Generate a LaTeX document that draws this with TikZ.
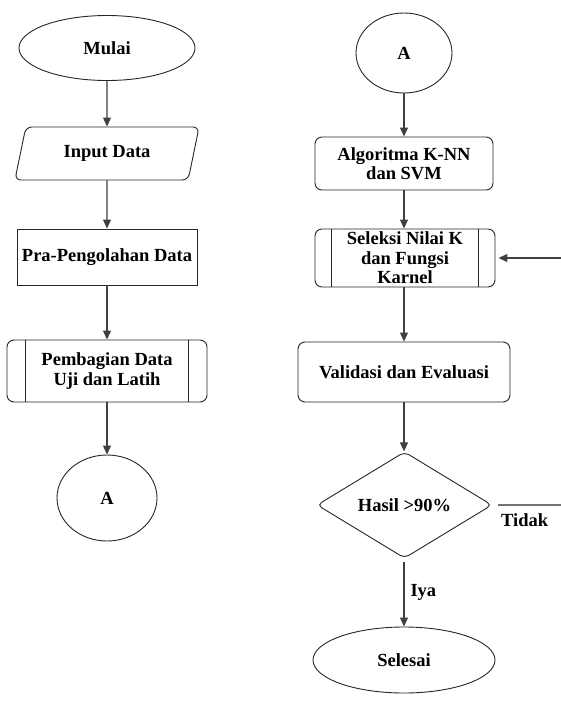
\documentclass[tikz,border=0pt]{standalone}
\usepackage{fontspec}
\setmainfont{Liberation Serif}
\usetikzlibrary{shapes.geometric}
\usetikzlibrary{arrows.meta}

\tikzset{
	txt/.style={font=\fontsize{18.5}{19.5}\selectfont\bfseries, align=center, inner sep=0pt},
	base/.style={txt, draw=black!85, line width=0.9pt},
	terminal/.style={base, ellipse, minimum width=176pt, minimum height=65pt},
	connector/.style={base, ellipse, minimum width=100pt, minimum height=86pt},
	io/.style={base, trapezium, trapezium left angle=70, trapezium right angle=110, trapezium stretches=true, rounded corners=6pt, minimum width=185pt, minimum height=53pt},
	process/.style={base, rectangle, minimum width=180pt, minimum height=56pt},
	roundbox/.style={base, rectangle, rounded corners=7pt},
	subproc/.style={base, rectangle, rounded corners=7pt},
	decision/.style={base, diamond, rounded corners=5pt, minimum width=175pt, minimum height=94pt},
	edge/.style={draw=black!85, line width=0.9pt},
	arrow/.style={draw=black!75, line width=1.1pt, -{Triangle[length=9pt,width=8pt]}},
	plain/.style={draw=black!55, line width=1.1pt}
}

\begin{document}
\begin{tikzpicture}[x=1pt, y=-1pt]
	\useasboundingbox (0,0) rectangle (561,705);

	\node[terminal] (mulai) at (107,48) {Mulai};
	\node[io] (input) at (107,153.5) {Input Data};
	\node[process] (pra) at (107,257) {Pra-Pengolahan Data};
	\node[subproc, minimum width=200pt, minimum height=62pt] (bagi) at (107,371) {Pembagian Data\\Uji dan Latih};
	\node[connector] (a1) at (107,498) {A};

	\node[connector, minimum width=96pt, minimum height=80pt] (a2) at (404,53) {A};
	\node[roundbox, minimum width=178pt, minimum height=53pt] (algo) at (404,163.5) {Algoritma K-NN\\dan SVM};
	\node[subproc, minimum width=180pt, minimum height=58pt] (seleksi) at (405,258) {Seleksi Nilai K\\dan Fungsi\\Karnel};
	\node[roundbox, minimum width=212pt, minimum height=60pt] (validasi) at (404,372) {Validasi dan Evaluasi};
	\node[decision] (hasil) at (404.5,505) {Hasil >90\%};
	\node[terminal, minimum width=182pt, minimum height=66pt] (selesai) at (404,660) {Selesai};

	\foreach \n/\d in {bagi/19, seleksi/17} {
		\draw[edge] ([xshift=\d pt]\n.north west) -- ([xshift=\d pt]\n.south west);
		\draw[edge] ([xshift=-\d pt]\n.north east) -- ([xshift=-\d pt]\n.south east);
	}

	\draw[arrow] (mulai) -- (input);
	\draw[arrow] (input) -- (pra);
	\draw[arrow] (pra) -- (bagi);
	\draw[arrow] (bagi) -- (a1);

	\draw[arrow] (a2) -- (algo);
	\draw[arrow] (algo) -- (algo |- seleksi.north);
	\draw[arrow] (seleksi.south -| validasi) -- (validasi);
	\draw[arrow] (validasi) -- (validasi |- hasil.north);
	\draw[arrow, shorten <=3pt] (hasil.south -| selesai) -- node[txt, right=6pt] {Iya} (selesai);

	\coordinate (tidakend) at (561,505);
	\draw[plain, shorten <=6pt] (hasil.east) -- node[txt, below=8pt, xshift=-2pt] {Tidak} (tidakend);
	\coordinate (balik) at (561,258);
	\draw[arrow, shorten >=3pt] (balik) -- (seleksi.east);
\end{tikzpicture}
\end{document}
